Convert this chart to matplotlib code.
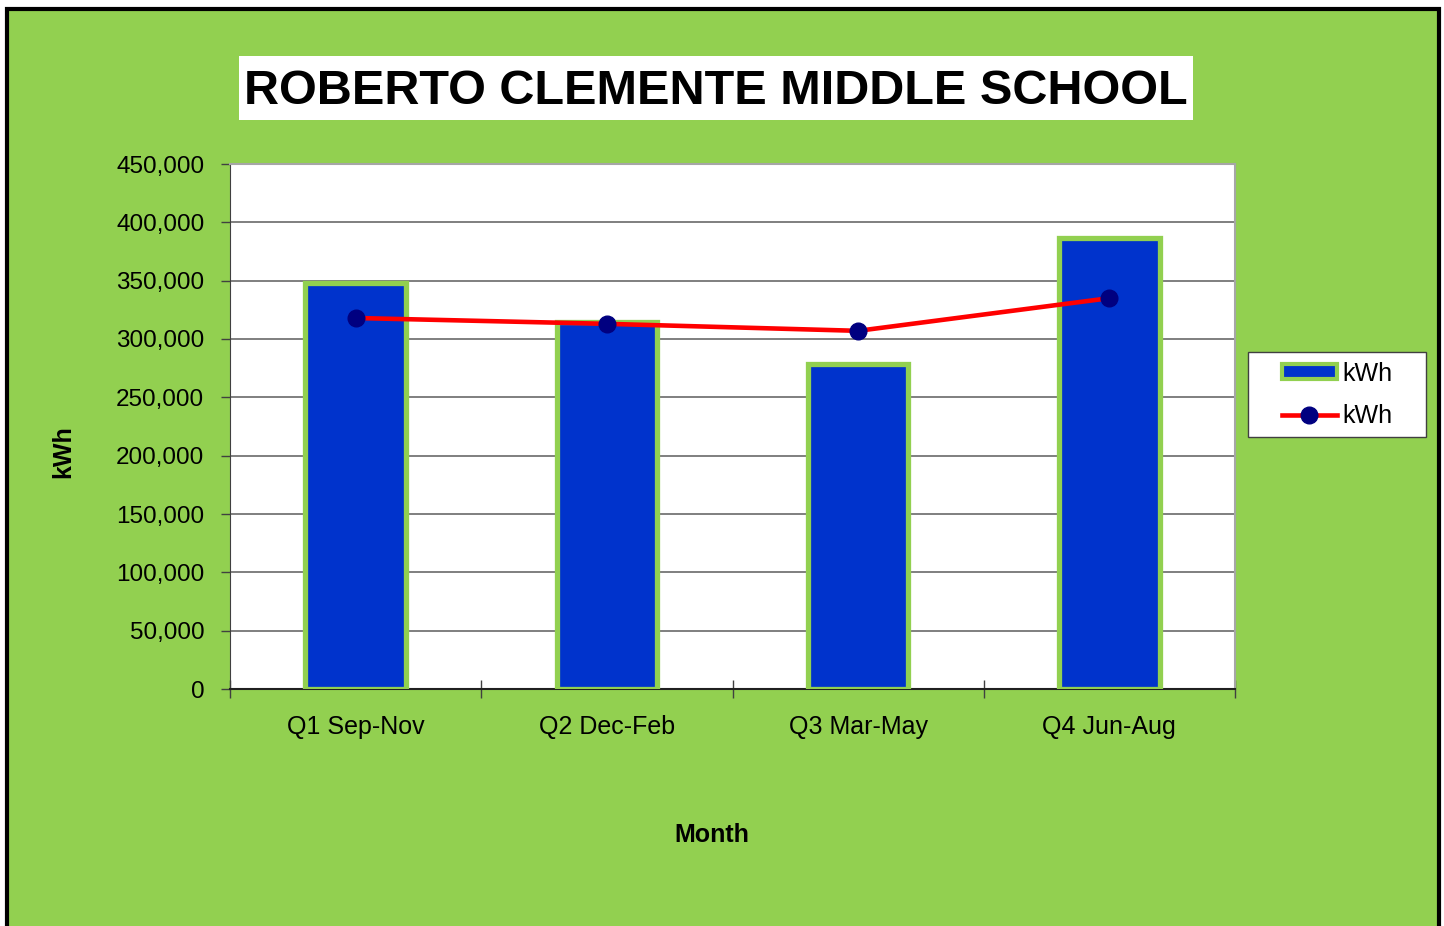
import matplotlib
matplotlib.use("Agg")
import matplotlib.pyplot as plt
from matplotlib.patches import Rectangle, Patch
from matplotlib.lines import Line2D
from matplotlib.ticker import FuncFormatter

QUARTERS = ["Q1 Sep-Nov", "Q2 Dec-Feb", "Q3 Mar-May", "Q4 Jun-Aug"]
BAR_KWH = [348000, 315000, 279000, 387000]
LINE_KWH = [318000, 313000, 307000, 335000]
Y_TICKS = [0, 50000, 100000, 150000, 200000, 250000, 300000, 350000, 400000, 450000]

GREEN = "#92D050"
BLUE = "#0033CC"
FONT = ["Liberation Sans", "DejaVu Sans"]

fig = plt.figure(figsize=(14.44, 9.26), dpi=100)
fig.patch.set_facecolor("white")

# green chart area with black frame (runs off the bottom edge)
fig.patches.append(Rectangle((7 / 1444, -0.02), (1439 - 7) / 1444, 1.02 - 9 / 926,
                             transform=fig.transFigure, facecolor=GREEN,
                             edgecolor="black", linewidth=3, zorder=-2))

ax = fig.add_axes([230 / 1444, 1 - 689 / 926, 1005 / 1444, 525 / 926])
ax.set_zorder(2)
ax.set_facecolor("white")

x = list(range(len(QUARTERS)))
ax.bar(x, BAR_KWH, width=0.40, color=BLUE, edgecolor=GREEN, linewidth=3.8, zorder=3)
ax.plot(x, LINE_KWH, color="red", linewidth=3.3, marker="o", markersize=12,
        markerfacecolor="#000080", markeredgecolor="#000080", zorder=4)

ax.set_xlim(-0.5, 3.5)
ax.set_ylim(0, 450000)
ax.set_yticks(Y_TICKS)
ax.yaxis.set_major_formatter(FuncFormatter(lambda v, p: f"{int(v):,}"))
ax.grid(axis="y", color="#6a6a6a", linewidth=1.2, zorder=1)
ax.set_axisbelow(True)

ax.set_xticks(x)
ax.set_xticklabels(QUARTERS, fontsize=18, family=FONT)
ax.tick_params(axis="x", length=0, pad=19)
ax.set_xticks([-0.5, 0.5, 1.5, 2.5, 3.5], minor=True)
ax.tick_params(axis="x", which="minor", direction="inout", length=13, width=1, color="#404040")
for lbl in ax.get_yticklabels():
    lbl.set_family(FONT)
ax.tick_params(axis="y", direction="out", length=6.5, width=1, pad=12, labelsize=17.5, color="#404040")

for side in ("top", "right"):
    ax.spines[side].set_color("#a6a6a6")
    ax.spines[side].set_linewidth(1.5)
ax.spines["left"].set_color("#404040")
ax.spines["bottom"].set_color("#202020")
ax.spines["bottom"].set_linewidth(1.5)

fig.text(63 / 1444, 1 - 452 / 926, "kWh", rotation=90, ha="center", va="center",
         fontsize=18, fontweight="bold", family=FONT)
fig.text(712 / 1444, 1 - 835 / 926, "Month", ha="center", va="center",
         fontsize=18, fontweight="bold", family=FONT)

# title on a white box
fig.patches.append(Rectangle((239 / 1444, 1 - 120 / 926), (1193 - 239) / 1444, 64 / 926,
                             transform=fig.transFigure, facecolor="white",
                             edgecolor="none", zorder=1))
fig.text(716 / 1444, 1 - 91 / 926, "ROBERTO CLEMENTE MIDDLE SCHOOL", ha="center",
         va="center", fontsize=35, fontweight="bold", family=FONT, zorder=2)

# legend box
fig.patches.append(Rectangle((1248 / 1444, 1 - 437 / 926), 178 / 1444, 85 / 926,
                             transform=fig.transFigure, facecolor="white",
                             edgecolor="#404040", linewidth=1, zorder=1))
handles = [
    Patch(facecolor=BLUE, edgecolor=GREEN, linewidth=3),
    Line2D([0], [0], color="red", linewidth=3.3, marker="o", markersize=12,
           markerfacecolor="#000080", markeredgecolor="#000080"),
]
leg = fig.legend(handles, ["kWh", "kWh"], loc="center",
                 bbox_to_anchor=(1337 / 1444, 1 - 395 / 926),
                 prop={"family": FONT, "size": 18}, frameon=False,
                 handlelength=2.2, handleheight=0.55,
                 handletextpad=0.2, labelspacing=0.75, borderaxespad=0)
leg.set_zorder(3)

fig.savefig("out.png", dpi=100, facecolor=fig.get_facecolor())
